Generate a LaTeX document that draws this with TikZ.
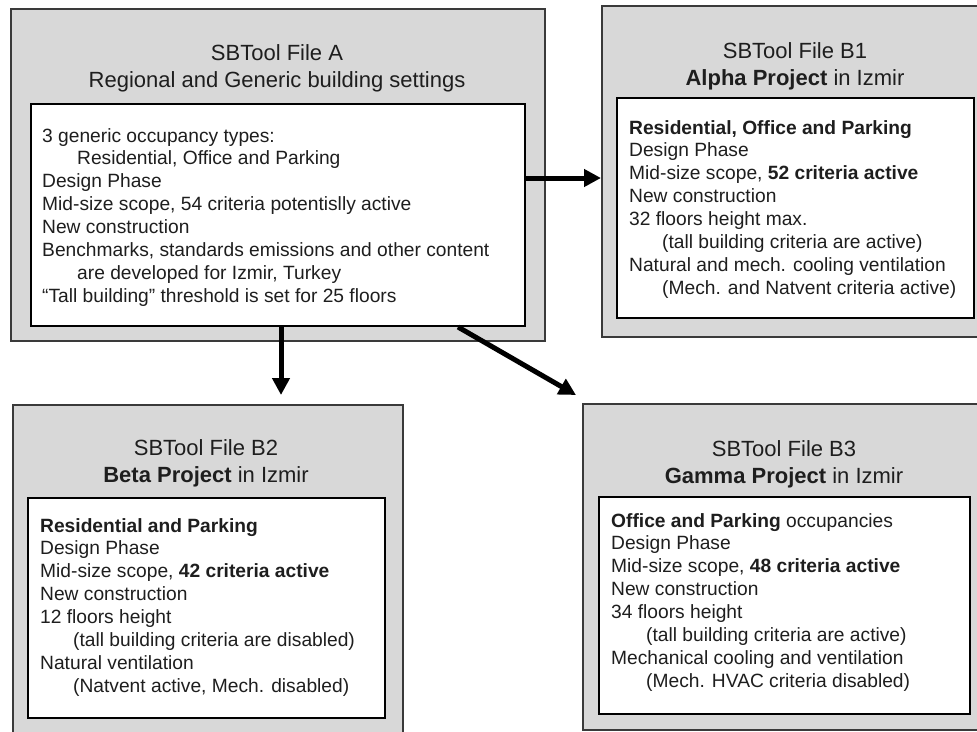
\documentclass[tikz,border=0pt]{standalone}
\usepackage{fontspec}
\setmainfont{Liberation Sans}
\usetikzlibrary{arrows.meta}
\definecolor{boxgray}{HTML}{D8D8D8}
\definecolor{txt}{HTML}{1E1E1E}
\definecolor{edge}{HTML}{3A3A3A}
\begin{document}
\begin{tikzpicture}[x=1pt,y=-1pt,
  outerbox/.style={draw=edge, line width=1.6pt, fill=boxgray, anchor=north west, inner sep=0pt},
  innerbox/.style={draw=black, line width=2.2pt, fill=white, anchor=north west, inner sep=0pt},
  titletext/.style={font=\fontsize{22}{27}\selectfont, align=center, anchor=base, text=txt, inner sep=0pt},
  bodytext/.style={font=\fontsize{19.2}{22.9}\selectfont, align=left, anchor=base west, text=txt, inner sep=0pt},
  arr/.style={line width=5pt, -{Triangle[length=17pt,width=17pt]}}]
\useasboundingbox (0,0) rectangle (977,731);
\clip (0,0) rectangle (977,731);
% box A
\node[outerbox, minimum width=534pt, minimum height=332pt] (outA) at (10,8) {};
\node[innerbox, minimum width=494pt, minimum height=222pt] (inA) at (30,103) {};
\node[titletext] (tA) at (277,87) {SBTool File A\\Regional and Generic building settings};
\node[bodytext] (bA) at (42,302.3) {3 generic occupancy types:\\
\hspace*{35pt}Residential, Office and Parking\\
Design Phase\\
Mid-size scope, 54 criteria potentislly active\\
New construction\\
Benchmarks, standards emissions and other content\\
\hspace*{35pt}are developed for Izmir, Turkey\\
“Tall building” threshold is set for 25 floors};
% box B1
\node[outerbox, minimum width=389pt, minimum height=331pt] (outB1) at (601,5) {};
\node[innerbox, minimum width=357pt, minimum height=220pt] (inB1) at (616,97) {};
\node[titletext] (tB1) at (795,85) {SBTool File B1\\\textbf{Alpha Project} in Izmir};
\node[bodytext] (bB1) at (629,294.3) {\textbf{Residential, Office and Parking}\\
Design Phase\\
Mid-size scope, \textbf{52 criteria active}\\
New construction\\
32 floors height max.\\
\hspace*{33pt}(tall building criteria are active)\\
Natural and mech. cooling ventilation\\
\hspace*{33pt}(Mech. and Natvent criteria active)};
% box B2
\node[outerbox, minimum width=390pt, minimum height=341pt] (outB2) at (12,404) {};
\node[innerbox, minimum width=357pt, minimum height=220pt] (inB2) at (27,497) {};
\node[titletext] (tB2) at (206,482) {SBTool File B2\\\textbf{Beta Project} in Izmir};
\node[bodytext] (bB2) at (40,692.3) {\textbf{Residential and Parking}\\
Design Phase\\
Mid-size scope, \textbf{42 criteria active}\\
New construction\\
12 floors height\\
\hspace*{33pt}(tall building criteria are disabled)\\
Natural ventilation\\
\hspace*{33pt}(Natvent active, Mech. disabled)};
% box B3
\node[outerbox, minimum width=408pt, minimum height=326pt] (outB3) at (582,403) {};
\node[innerbox, minimum width=371pt, minimum height=217pt] (inB3) at (598,496) {};
\node[titletext] (tB3) at (784,483) {SBTool File B3\\\textbf{Gamma Project} in Izmir};
\node[bodytext] (bB3) at (611,687.3) {\textbf{Office and Parking} occupancies\\
Design Phase\\
Mid-size scope, \textbf{48 criteria active}\\
New construction\\
34 floors height\\
\hspace*{35pt}(tall building criteria are active)\\
Mechanical cooling and ventilation\\
\hspace*{35pt}(Mech. HVAC criteria disabled)};
% connectors
\coordinate (pA1) at (524,178);
\coordinate (pA2) at (281,325);
\coordinate (pA3) at (458,327);
\draw[arr] (pA1) -- (pA1 -| outB1.west);
\draw[arr] (pA2) -- ([yshift=9pt]pA2 |- outB2.north);
\draw[arr] (pA3) -- ([shift={(-6pt,8pt)}]outB3.north west);
\end{tikzpicture}
\end{document}
